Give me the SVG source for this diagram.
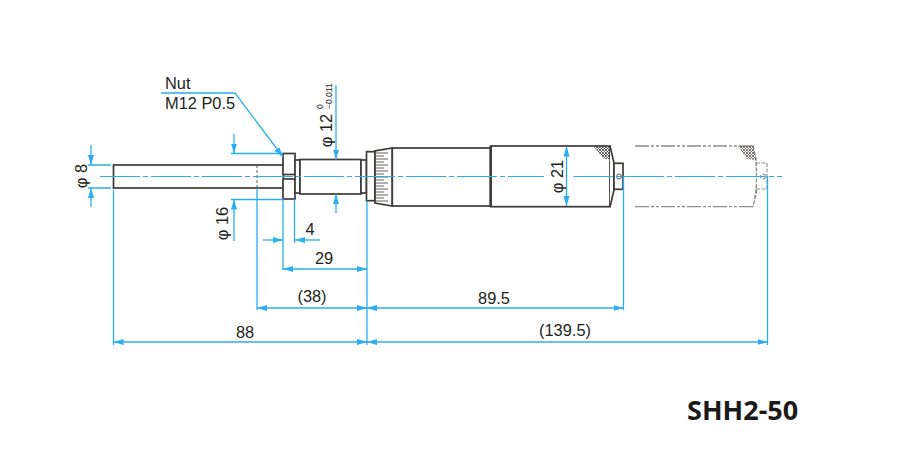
<svg xmlns="http://www.w3.org/2000/svg" width="911" height="455" viewBox="0 0 911 455">
<style>
text{font-family:"Liberation Sans",Arial,sans-serif;font-size:16.4px;fill:#231f20}
.o{fill:#fff;stroke:#3e3a39;stroke-width:1.7}
.k{fill:none;stroke:#3e3a39;stroke-width:.8}
.d{fill:none;stroke:#29aef0;stroke-width:1.3}
.a{marker-end:url(#ar)}
.c{fill:none;stroke:#29aef0;stroke-width:1.2;stroke-dasharray:40 3 5 3}
.p{fill:none;stroke:#8f8d8c;stroke-width:1.3;stroke-dasharray:14 2 3 2 3 2}
.q{fill:#fff;stroke:#8f8d8c;stroke-width:1.100;stroke-dasharray:4 1.5}
</style>
<defs>
<marker id="ar" markerUnits="userSpaceOnUse" markerWidth="12" markerHeight="8" refX="10" refY="4" orient="auto"><path d="M0 1 L10 4 L0 7 Z" fill="#29aef0"/></marker>
<pattern id="hd" width="3" height="3" patternUnits="userSpaceOnUse"><path d="M0 0L3 3M3 0L0 3" stroke="#3e3a39" stroke-width=".8"/></pattern>
<pattern id="hg" width="3" height="3" patternUnits="userSpaceOnUse"><path d="M0 0L3 3M3 0L0 3" stroke="#6f6a68" stroke-width=".9"/></pattern>
</defs>
<g id="phantom-thimble">
<path class="p" d="M635 146H753M635 206.700H753"/>
<path class="q" d="M753 146Q760 176 753 206.700M753 146L756.500 160V193L753 206.700M756 163H767V189H756"/>
<path d="M738 146H754L756 160L747 159Z" fill="url(#hg)"/>
<circle class="q" cx="763" cy="176.500" r="2.500"/>
</g>
<g id="spindle">
<rect class="o" x="113.500" y="165" width="170" height="23"/>
<path d="M257 165V188" stroke="#3e3a39" stroke-width=".8" stroke-dasharray="3 2"/>
</g>
<g id="nut">
<rect class="o" x="283" y="153.500" width="12" height="21"/>
<rect class="o" x="283" y="179" width="12" height="20"/>
</g>
<g id="barrel">
<rect class="o" x="295" y="160" width="5" height="33"/>
<rect class="o" x="300" y="159.500" width="61" height="34.500"/>
<rect class="o" x="361" y="160" width="5.500" height="33"/>
<rect class="o" x="366.500" y="151.700" width="8.500" height="49"/>
<path class="o" d="M375 150.800L392.300 148V206L375 203Z"/>
<path class="k" d="M375 153H388M375 156H384M375 159H388M375 162H384M375 165H388M375 168H384M375 171H388M375 174H384M375 177H388M375 180H384M375 183H388M375 186H384M375 189H388M375 192H384M375 195H388M375 198H384M375 201H388"/>
<rect class="o" x="392.300" y="148" width="98.400" height="58"/>
</g>
<g id="thimble">
<rect class="o" x="490.700" y="146" width="119.300" height="60.700"/>
<path d="M490.700 146V206.700" stroke="#3e3a39" stroke-width="2.500"/>
<path d="M594 147H609L610 159H604Z" fill="url(#hd)"/>
<path class="o" d="M610 146L614 163V190L610 206.700"/>
<rect class="o" x="614" y="163.300" width="9" height="26"/>
<circle class="k" cx="619" cy="176.500" r="2.500"/>
</g>
<g id="connectors">
<path class="c" d="M100 176.500H544M573 176.500H782"/>
<path class="d" d="M88 165H111M88 188H111M231 153.500H283M231 199.500H283M113.500 190V345M257 188V310M283 199V270M294.500 199V243M367 201V345M623.500 176V310M767.500 176V345"/>
<path class="d a" d="M91 145V165"/><path class="d a" d="M91 207V188"/>
<path class="d a" d="M234 134V153.500"/><path class="d a" d="M234 241V199.500"/>
<path class="d a" d="M336 85V159.500"/><path class="d a" d="M336 213V194"/>
<path class="d a" d="M566.500 176V146.500"/><path class="d a" d="M566.500 176V206"/>
<path class="d a" d="M263 240H283"/><path class="d a" d="M320 240H295"/>
<path class="d a" d="M325 269H283"/><path class="d a" d="M325 269H367"/>
<path class="d a" d="M312 308H257"/><path class="d a" d="M312 308H367"/>
<path class="d a" d="M495 308H367"/><path class="d a" d="M495 308H623.500"/>
<path class="d a" d="M240 342H113.500"/><path class="d a" d="M240 342H367"/>
<path class="d a" d="M567 342H367"/><path class="d a" d="M567 342H767.500"/>
<path class="d a" d="M161 93H235L283 157"/>
</g>
<g id="labels">
<text x="165" y="89">Nut</text>
<text x="165" y="109">M12 P0.5</text>
<text transform="translate(87 176) rotate(-90)" text-anchor="middle">φ 8</text>
<text transform="translate(228 223.500) rotate(-90)" text-anchor="middle">φ 16</text>
<text transform="translate(332 130.500) rotate(-90)" text-anchor="middle">φ 12</text>
<text transform="translate(323 109) rotate(-90)" style="font-size:8.500px">0</text>
<text transform="translate(332 109) rotate(-90)" style="font-size:8.500px">−0.011</text>
<text transform="translate(563 176.500) rotate(-90)" text-anchor="middle">φ 21</text>
<text x="310" y="235" text-anchor="middle">4</text>
<text x="324" y="264" text-anchor="middle">29</text>
<text x="312" y="302" text-anchor="middle">(38)</text>
<text x="494" y="304" text-anchor="middle">89.5</text>
<text x="245" y="338" text-anchor="middle">88</text>
<text x="565" y="336" text-anchor="middle">(139.5)</text>
<text x="687" y="420" style="font-family:'Noto Sans',sans-serif;font-size:27px;font-weight:700;fill:#1a1a1a">SHH2-50</text>
</g>
</svg>
